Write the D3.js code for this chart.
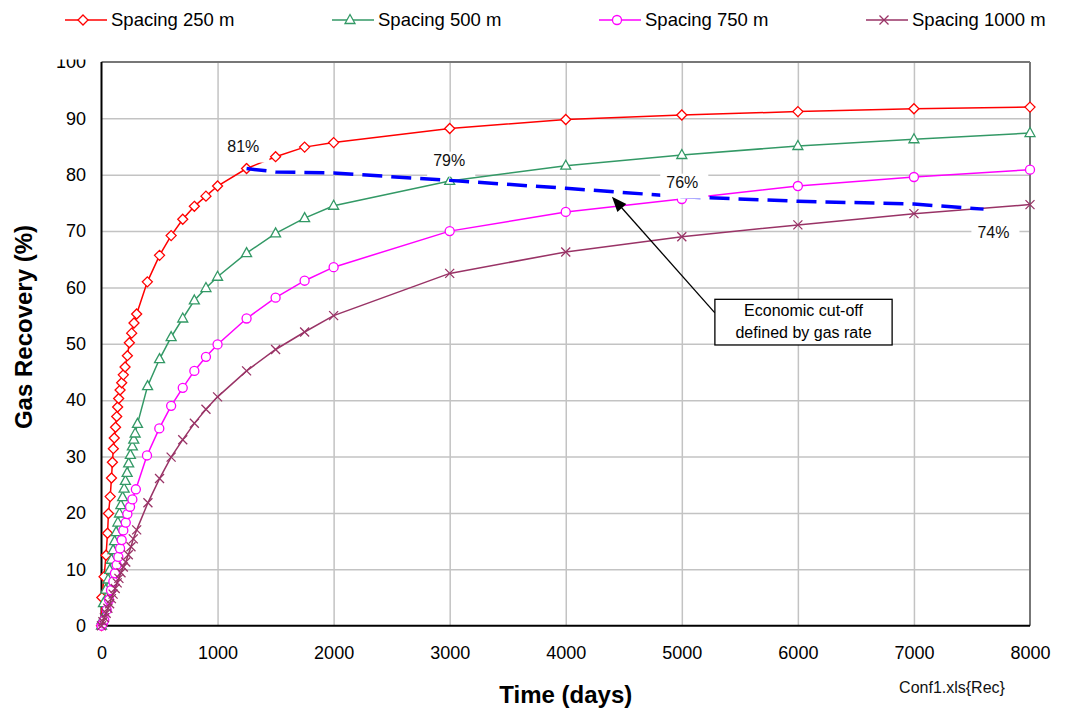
<!DOCTYPE html>
<html>
<head>
<meta charset="utf-8">
<script src="https://cdn.jsdelivr.net/npm/d3@7"></script>
<style>
  body { margin: 0; background: #fff; }
  svg { display: block; font-family: "Liberation Sans", Arial, sans-serif; }
</style>
</head>
<body>
<svg id="chart" width="1065" height="720"></svg>
<script>
// ---- data ----
// Spacing 250 m
var t250 = [0, 3, 22, 39, 52, 60, 75, 86, 94, 102, 110, 121, 131, 139, 148, 160, 174, 188, 203, 223,
            240, 260, 280, 303, 395, 500, 600, 700, 800, 900, 1000, 1250, 1500, 1750, 2000,
            3000, 4000, 5000, 6000, 7000, 8000];
var v250 = [0, 5.0, 8.7, 12.5, 16.4, 19.9, 22.9, 26.2, 29.0, 31.4, 33.3, 35.2, 37.1, 38.8, 40.3, 41.8, 43.1, 44.5, 45.9, 47.9,
            50.2, 51.9, 53.7, 55.3, 61.0, 65.7, 69.2, 72.1, 74.4, 76.2, 78.0, 81.1, 83.2, 84.9, 85.7,
            88.2, 89.8, 90.6, 91.2, 91.7, 92.0];
// Spacing 500 m
var t500 = [0, 5, 17, 37, 57, 71, 86, 100, 113, 126, 141, 155, 167, 182, 195, 206, 221, 234, 249, 266,
            278, 290, 310, 397, 500, 600, 700, 800, 900, 1000, 1250, 1500, 1750, 2000,
            3000, 4000, 5000, 6000, 7000, 8000];
var v500 = [0, 1.0, 4.0, 6.4, 8.2, 9.9, 11.7, 13.4, 15.0, 16.6, 18.3, 19.9, 21.4, 22.8, 24.3, 25.7, 27.1, 28.8, 30.3, 31.8,
            33.0, 34.1, 35.8, 42.5, 47.3, 51.2, 54.5, 57.7, 59.9, 61.9, 66.1, 69.6, 72.3, 74.5,
            78.9, 81.6, 83.5, 85.1, 86.3, 87.4];
// Spacing 750 m
var t750 = [0, 12, 24, 45, 65, 82, 102, 116, 131, 145, 160, 174, 188, 209, 223, 246, 266, 296,
            392, 498, 600, 700, 800, 900, 1000, 1250, 1500, 1750, 2000,
            3000, 4000, 5000, 6000, 7000, 8000];
var v750 = [0, 0.4, 1.0, 2.8, 4.6, 6.3, 7.8, 9.3, 10.8, 12.2, 13.7, 15.2, 16.9, 18.3, 19.8, 21.1, 22.4, 24.2,
            30.2, 35.0, 39.0, 42.2, 45.2, 47.7, 49.9, 54.5, 58.2, 61.2, 63.6,
            70.0, 73.4, 75.7, 78.0, 79.6, 80.9];
// Spacing 1000 m
var t1000 = [0, 12, 25, 40, 55, 70, 85, 100, 118, 135, 150, 168, 188, 209, 231, 254, 274, 303,
             400, 500, 600, 700, 800, 900, 1000, 1250, 1500, 1750, 2000,
             3000, 4000, 5000, 6000, 7000, 8000];
var v1000 = [0, 0.7, 1.4, 2.2, 3.1, 3.9, 4.8, 5.6, 6.6, 7.6, 8.4, 9.4, 10.4, 11.3, 12.6, 14.0, 15.4, 17.0,
             21.8, 26.1, 29.9, 33.0, 35.9, 38.4, 40.6, 45.2, 49.0, 52.1, 55.0,
             62.5, 66.3, 69.0, 71.1, 73.1, 74.7];

// economic cut-off line
var cutT = [1250, 1500, 2000, 3000, 4000, 5000, 6000, 7000, 7600];
var cutV = [81.1, 80.5, 80.3, 79.0, 77.6, 76.1, 75.3, 74.8, 73.9];

// percent labels on the cut-off line
var pctText = ["81%", "79%", "76%", "74%"];
var pctT = [1222, 2996, 5004, 7685];
var pctV = [85.1, 82.6, 78.7, 69.8];

var xTicks = [0, 1000, 2000, 3000, 4000, 5000, 6000, 7000, 8000];
var yTicks = [0, 10, 20, 30, 40, 50, 60, 70, 80, 90, 100];

var seriesNames = ["Spacing 250 m", "Spacing 500 m", "Spacing 750 m", "Spacing 1000 m"];

// ---- drawing ----
var svg = d3.select("#chart");

var x = d3.scaleLinear().domain([0, 8000]).range([101.5, 1030]);
var y = d3.scaleLinear().domain([0, 100]).range([625.7, 62]);

var plotH = y(0) - y(100);
var plotW = x(8000) - x(0);

// gridlines
svg.append("g")
    .attr("transform", "translate(0," + y(0) + ")")
    .call(d3.axisBottom(x).tickValues(xTicks.slice(1, -1)).tickSize(-plotH).tickFormat(""))
    .call(g => g.select(".domain").remove())
    .selectAll("line").attr("stroke", "#c3c3c3").attr("stroke-width", 1.5);

svg.append("g")
    .attr("transform", "translate(" + x(0) + ",0)")
    .call(d3.axisLeft(y).tickValues(yTicks.slice(1, -1)).tickSize(-plotW).tickFormat(""))
    .call(g => g.select(".domain").remove())
    .selectAll("line").attr("stroke", "#c3c3c3").attr("stroke-width", 1.5);

// plot frame: grey top/right, black left/bottom
svg.append("line").attr("x1", x(0)).attr("x2", x(8000)).attr("y1", y(100)).attr("y2", y(100))
    .attr("stroke", "#777").attr("stroke-width", 2);
svg.append("line").attr("x1", x(8000)).attr("x2", x(8000)).attr("y1", y(100)).attr("y2", y(0))
    .attr("stroke", "#777").attr("stroke-width", 2);

// tick labels
svg.append("g")
    .attr("transform", "translate(0," + y(0) + ")")
    .call(d3.axisBottom(x).tickValues(xTicks).tickSize(0).tickPadding(21).tickFormat(d3.format("d")))
    .call(g => g.select(".domain").remove())
    .selectAll("text").attr("font-size", 18).attr("font-family", "Liberation Sans, Arial, sans-serif").attr("fill", "#000");

svg.append("g")
    .attr("transform", "translate(" + x(0) + ",0)")
    .call(d3.axisLeft(y).tickValues(yTicks).tickSize(0).tickPadding(15.5))
    .call(g => g.select(".domain").remove())
    .selectAll("text").attr("font-size", 18).attr("font-family", "Liberation Sans, Arial, sans-serif").attr("fill", "#000");

svg.append("line").attr("x1", x(0)).attr("x2", x(0)).attr("y1", y(100)).attr("y2", y(0))
    .attr("stroke", "#000").attr("stroke-width", 2);
svg.append("line").attr("x1", x(0) - 1).attr("x2", x(8000)).attr("y1", y(0)).attr("y2", y(0))
    .attr("stroke", "#000").attr("stroke-width", 2);

// series
var markerPath = {
    diamond: "M0,-5L5,0L0,5L-5,0Z",
    triangle: "M0,-5.5L5,3.5L-5,3.5Z",
    circle: d3.symbol(d3.symbolCircle, 64)(),
    cross: "M-4.5,-4.5L4.5,4.5M-4.5,4.5L4.5,-4.5"
};

var series = [
    { name: seriesNames[0], t: t250, v: v250, color: "#ff0000", marker: "diamond" },
    { name: seriesNames[1], t: t500, v: v500, color: "#339966", marker: "triangle" },
    { name: seriesNames[2], t: t750, v: v750, color: "#ff00ff", marker: "circle" },
    { name: seriesNames[3], t: t1000, v: v1000, color: "#993366", marker: "cross" }
];

var line = d3.line().x(d => x(d[0])).y(d => y(d[1]));

series.forEach(function (s) {
    var pts = s.t.map((t, i) => [t, s.v[i]]);
    var g = svg.append("g");
    g.append("path").attr("d", line(pts))
        .attr("fill", "none").attr("stroke", s.color).attr("stroke-width", 1.5);
    g.selectAll("path.mk").data(pts).enter().append("path")
        .attr("class", "mk")
        .attr("d", markerPath[s.marker])
        .attr("transform", d => "translate(" + x(d[0]) + "," + y(d[1]) + ")")
        .attr("fill", s.marker == "cross" ? "none" : "#fff")
        .attr("stroke", s.color).attr("stroke-width", 1.3);
});

// economic cut-off dashed line
svg.append("path")
    .attr("d", line(cutT.map((t, i) => [t, cutV[i]])))
    .attr("fill", "none").attr("stroke", "#0000ff").attr("stroke-width", 3.5)
    .attr("stroke-dasharray", "20,9");

// percent labels with white boxes (boxes hang below the text, as in the original)
pctText.forEach(function (txt, i) {
    var g = svg.append("g");
    var label = g.append("text")
        .attr("x", x(pctT[i])).attr("y", y(pctV[i]))
        .attr("dy", "0.35em").attr("text-anchor", "middle")
        .attr("font-size", 16).attr("fill", "#111").text(txt);
    var bb = label.node().getBBox();
    g.insert("rect", "text")
        .attr("x", bb.x - 6).attr("y", bb.y)
        .attr("width", bb.width + 16).attr("height", bb.height + 8)
        .attr("fill", "#fff");
});

// annotation box with arrow
var noteLines = ["Economic cut-off", "defined by gas rate"];
var noteBox = { t0: 5285, t1: 6812, v0: 57.9, v1: 49.8 };
var arrowTip = { t: 4398, v: 76.1 };
var arrowTailV = 55.5;

var ax1 = x(noteBox.t0), ay1 = y(arrowTailV);
var ax2 = x(arrowTip.t), ay2 = y(arrowTip.v);
var ang = Math.atan2(ay2 - ay1, ax2 - ax1);
var headL = 15, headW = 6;
svg.append("line")
    .attr("x1", ax1).attr("y1", ay1)
    .attr("x2", ax2 - Math.cos(ang) * headL * 0.8).attr("y2", ay2 - Math.sin(ang) * headL * 0.8)
    .attr("stroke", "#000").attr("stroke-width", 1.3);
var bx = ax2 - Math.cos(ang) * headL, by = ay2 - Math.sin(ang) * headL;
svg.append("path")
    .attr("d", "M" + ax2 + "," + ay2 +
        "L" + (bx + Math.sin(ang) * headW) + "," + (by - Math.cos(ang) * headW) +
        "L" + (bx - Math.sin(ang) * headW) + "," + (by + Math.cos(ang) * headW) + "Z")
    .attr("fill", "#000");

svg.append("rect")
    .attr("x", x(noteBox.t0)).attr("y", y(noteBox.v0))
    .attr("width", x(noteBox.t1) - x(noteBox.t0)).attr("height", y(noteBox.v1) - y(noteBox.v0))
    .attr("fill", "#fff").attr("stroke", "#000").attr("stroke-width", 1.3);
svg.append("text")
    .attr("x", (x(noteBox.t0) + x(noteBox.t1)) / 2).attr("y", y(noteBox.v0) + 17)
    .attr("text-anchor", "middle").attr("font-size", 16).attr("fill", "#000")
    .selectAll("tspan").data(noteLines).enter().append("tspan")
    .attr("x", (x(noteBox.t0) + x(noteBox.t1)) / 2)
    .attr("dy", (d, i) => i == 0 ? 0 : 22)
    .text(d => d);

// axis titles
svg.append("text")
    .attr("x", (x(0) + x(8000)) / 2).attr("y", 703)
    .attr("text-anchor", "middle").attr("font-size", 24).attr("font-weight", "bold")
    .text("Time (days)");
svg.append("text")
    .attr("transform", "translate(32,327) rotate(-90)")
    .attr("text-anchor", "middle").attr("font-size", 24).attr("font-weight", "bold")
    .text("Gas Recovery (%)");
svg.append("text")
    .attr("x", 952).attr("y", 693).attr("text-anchor", "middle")
    .attr("font-size", 16).attr("fill", "#111")
    .text("Conf1.xls{Rec}");

// legend (its white band clips the top of the "100" label like the original)
svg.append("rect").attr("x", 0).attr("y", 0).attr("width", 1065).attr("height", 59.5).attr("fill", "#fff");
var legend = svg.append("g");
series.forEach(function (s, i) {
    var tx = 111 + i * 267, ly = 20;
    legend.append("line").attr("x1", tx - 46).attr("x2", tx - 4).attr("y1", ly).attr("y2", ly)
        .attr("stroke", s.color).attr("stroke-width", 1.5);
    legend.append("path").attr("d", markerPath[s.marker])
        .attr("transform", "translate(" + (tx - 28) + "," + ly + ")")
        .attr("fill", s.marker == "cross" ? "none" : "#fff")
        .attr("stroke", s.color).attr("stroke-width", 1.3);
    legend.append("text").attr("x", tx).attr("y", ly).attr("dy", "0.35em")
        .attr("font-size", 18.5).attr("fill", "#000").text(s.name);
});
</script>
</body>
</html>
